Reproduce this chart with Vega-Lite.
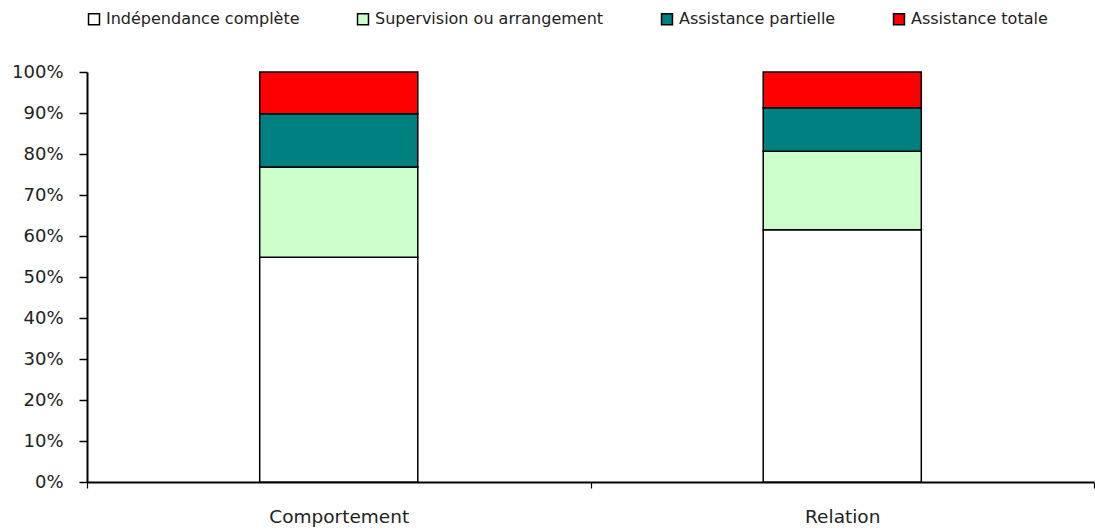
{
  "$schema": "https://vega.github.io/schema/vega-lite/v6.json",
  "autosize": "none",
  "width": 1007,
  "height": 410,
  "padding": {"left": 87, "top": 72, "right": 1, "bottom": 48},
  "background": "white",
  "data": {
    "values": [
      {"domaine": "Comportement", "niveau": "Indépendance complète", "rang": 1, "part": 0.548},
      {"domaine": "Comportement", "niveau": "Supervision ou arrangement", "rang": 2, "part": 0.220},
      {"domaine": "Comportement", "niveau": "Assistance partielle", "rang": 3, "part": 0.130},
      {"domaine": "Comportement", "niveau": "Assistance totale", "rang": 4, "part": 0.102},
      {"domaine": "Relation", "niveau": "Indépendance complète", "rang": 1, "part": 0.615},
      {"domaine": "Relation", "niveau": "Supervision ou arrangement", "rang": 2, "part": 0.192},
      {"domaine": "Relation", "niveau": "Assistance partielle", "rang": 3, "part": 0.106},
      {"domaine": "Relation", "niveau": "Assistance totale", "rang": 4, "part": 0.087}
    ]
  },
  "mark": {"type": "bar", "stroke": "black", "strokeWidth": 1.5, "width": {"band": 0.314}},
  "encoding": {
    "x": {
      "field": "domaine",
      "type": "nominal",
      "scale": {"paddingInner": 0, "paddingOuter": 0},
      "axis": {
        "title": null,
        "labelAngle": 0,
        "labelFont": "DejaVu Sans",
        "labelFontSize": 18.5,
        "labelColor": "#222",
        "tickBand": "extent",
        "tickSize": 6,
        "tickColor": "black",
        "tickWidth": 1.2,
        "domainColor": "black",
        "domainWidth": 2,
        "labelPadding": 19,
        "grid": false
      }
    },
    "y": {
      "field": "part",
      "type": "quantitative",
      "stack": "zero",
      "scale": {"domain": [0, 1]},
      "axis": {
        "title": null,
        "format": ".0%",
        "values": [0, 0.1, 0.2, 0.3, 0.4, 0.5, 0.6, 0.7, 0.8, 0.9, 1],
        "labelFont": "DejaVu Sans",
        "labelFontSize": 18,
        "labelColor": "#222",
        "tickSize": 8,
        "tickColor": "black",
        "tickWidth": 1.5,
        "domainColor": "black",
        "domainWidth": 2,
        "labelPadding": 16,
        "grid": false
      }
    },
    "color": {
      "field": "niveau",
      "type": "nominal",
      "scale": {
        "domain": ["Indépendance complète", "Supervision ou arrangement", "Assistance partielle", "Assistance totale"],
        "range": ["#FFFFFF", "#CCFFCC", "#008080", "#FF0000"]
      },
      "legend": {
        "title": null,
        "orient": "none",
        "legendX": -1,
        "legendY": -61,
        "direction": "horizontal",
        "symbolType": "square",
        "symbolSize": 120,
        "symbolStrokeColor": "black",
        "symbolStrokeWidth": 1.5,
        "labelFont": "DejaVu Sans",
        "labelFontSize": 16,
        "labelColor": "#222",
        "labelOffset": 4,
        "labelLimit": 400,
        "columnPadding": 54
      }
    },
    "order": {"field": "rang", "type": "quantitative"}
  },
  "config": {"view": {"stroke": null}}
}
